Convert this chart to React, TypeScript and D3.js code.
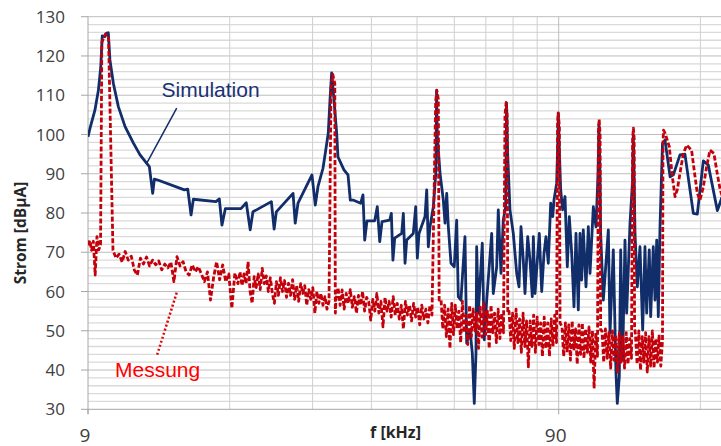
import React, { useEffect, useRef } from "react";
import * as d3 from "d3";

const W = 721;
const H = 446;

// axis ticks / grid
const yTicks = [30, 40, 50, 60, 70, 80, 90, 100, 110, 120, 130];
const yMinor = d3.range(30, 131, 2);
const xTickLabels = [9, 90];
const xGrid = [18, 27, 36, 45, 54, 63, 72, 81, 90, 180, 270];

// Simulation [kHz, dBµA]
const simulation: [number, number][] = [
  [9.0, 99.4], [9.09, 101.6], [9.31, 106.2], [9.47, 111.3], [9.58, 117.3], [9.65, 125.1],
  [9.78, 124.9], [9.86, 125.8], [9.94, 125.9], [10.02, 119], [10.19, 113], [10.44, 107.1],
  [10.79, 102], [11.24, 97.8], [11.61, 94.8], [12.02, 92.5], [12.15, 91.8], [12.35, 85.0],
  [12.45, 88.6], [12.66, 88.4], [14.42, 85.9], [14.66, 86.1], [14.9, 79.5], [15.07, 83.5],
  [16.83, 82.9], [17.11, 83.6], [17.33, 76.9], [17.62, 81.1], [19.02, 81.1], [19.52, 82.6],
  [19.9, 75.7], [20.17, 80.3], [22.07, 82.9], [22.37, 75.9], [22.61, 80.3], [24.54, 85.0],
  [24.8, 77.4], [25.14, 82.5], [26.92, 89.7], [27.36, 82.0], [27.72, 86.7], [28.41, 91.4],
  [28.73, 95.2], [29.15, 100.3], [29.4, 108.8], [29.64, 115.7], [29.98, 108.8], [30.38, 100.3],
  [30.57, 94.3], [31.48, 91], [32.11, 89.7], [32.47, 83.3], [32.9, 83.3], [34.17, 82.5],
  [34.55, 84.6], [34.84, 73.1], [35.23, 78.0], [36.59, 78.0], [37.05, 81.6], [37.5, 72.7],
  [37.92, 77.8], [39.38, 78.2], [39.69, 79.9], [40.0, 68.0], [40.35, 73.6], [41.76, 74.8],
  [42.09, 79.9], [42.44, 67.2], [42.79, 73.1], [44.19, 74.8], [44.72, 81.6], [45.07, 68.5],
  [45.44, 74.8], [46.8, 79.1], [47.19, 85.9], [47.56, 71.4], [47.96, 76.5], [48.74, 81.6],
  [49.33, 90.1], [49.45, 100], [49.53, 111.3], [49.68, 100], [50.37, 90.1], [51.18, 83.3],
  [51.61, 77.4], [52.04, 85.0], [52.45, 76.5], [53.14, 67.2], [54.0, 66.3], [54.64, 78.2],
  [55.07, 58.7], [55.79, 57.8], [56.9, 74.0], [57.38, 46.8], [58.32, 50.2], [58.98, 44.3],
  [59.55, 31.5], [60.05, 44.3], [60.25, 71.4], [60.73, 54.5], [61.93, 72.3], [62.53, 47.7],
  [63.28, 57.8], [64.85, 74.8], [65.35, 59.5], [66.45, 66.3], [66.97, 80.8], [67.86, 64.6],
  [68.63, 78.2], [69.44, 81.6], [69.72, 108], [70.12, 95], [70.91, 80.8], [72.07, 74.8],
  [73.29, 64.6], [74.12, 61.2], [74.84, 76.5], [75.69, 68.0], [76.32, 59.5], [77.34, 74.0],
  [78.21, 68.0], [79.09, 58.7], [79.5, 74.0], [80.16, 59.5], [81.07, 68], [81.85, 74.8],
  [82.82, 60], [83.76, 69.7], [84.57, 74.0], [85.53, 67.2], [86.54, 82.5], [87.41, 79.1],
  [87.95, 83.3], [89.11, 87.6], [89.69, 100], [89.8, 105.4], [90.35, 95], [90.88, 85.9],
  [91.76, 80.8], [92.82, 84.2], [93.87, 66.3], [94.79, 79.1], [95.91, 69.7], [96.99, 56.1],
  [97.94, 74.8], [99.05, 55.3], [99.88, 74.8], [100.71, 62.9], [101.5, 75.7], [102.86, 61.2],
  [104.03, 76.5], [104.9, 64.6], [106.61, 81.6], [108.02, 76.5], [109.09, 90], [109.6, 102.6],
  [110.15, 90], [110.5, 74.8], [111.96, 57.8], [114.73, 75.7], [115.68, 49.4], [117.56, 70.6],
  [119.11, 39.2], [119.88, 31.5], [121.05, 38.3], [121.89, 70.6], [123.07, 42.6], [124.47, 73.1],
  [125.5, 54.5], [127.57, 77.4], [129.14, 88], [129.65, 99.9], [130.21, 88], [130.72, 74.8],
  [132.2, 61.2], [133.95, 71.4], [135.72, 50.2], [137.26, 71.4], [138.4, 54.5], [140.17, 70.6],
  [141.14, 53.6], [142.94, 71.4], [144.16, 57.8], [145.37, 73.1], [146.51, 53.6], [147.73, 76.5],
  [149.54, 97.7], [151.37, 98.6], [155.2, 89.2], [157.7, 89.7], [162.9, 94.8], [166.9, 95.0],
  [173.9, 79.9], [177.3, 79.7], [182.6, 93.3], [187.1, 92.2], [195.6, 80.6], [200, 84],
];

// Messung: noise stretches between the harmonics (from/to in kHz, values in dBµA)
const measNoise = [
  { from: 9.0, to: 9.57, db: [71.8, 73.0, 70.5, 72.8, 64.2, 74.0, 70.6, 72.0] },
  {
    from: 10.17, to: 18.74,
    db: [
      70.5, 68.5, 69.5, 67.5, 70.2, 68.0, 69.0, 65.5, 64.2, 68.5, 67.0, 68.8, 66.5, 68.0, 66.8,
      67.8, 65.5, 67.0, 66.0, 67.5, 62.5, 68.9, 66.5, 67.6, 65.0, 64.2, 66.8, 65.0, 66.3, 64.5,
      62.5, 65.0, 57.8, 63.5, 67.6, 63.0, 66.8, 62.5, 64.5, 55.7, 64.7, 62.0,
    ],
  },
  {
    from: 18.93, to: 29.26,
    db: [
      65.0, 61.5, 64.5, 62.0, 67.6, 60.0, 57.0, 63.8, 61.0, 64.5, 60.5, 65.9, 62.0, 64.0, 60.0,
      63.5, 59.5, 57.0, 62.5, 59.0, 63.5, 60.0, 62.8, 58.5, 62.1, 59.0, 63.0, 58.0, 61.5, 57.5,
      62.0, 59.5, 61.5, 56.5, 60.5, 58.0, 61.0, 54.5, 60.0, 57.0, 59.5, 56.5, 58.7, 55.5, 57.5,
    ],
  },
  {
    from: 30.28, to: 48.42,
    db: [
      58.0, 61.0, 56.5, 60.4, 55.5, 59.5, 57.0, 60.5, 56.0, 58.7, 54.5, 59.0, 56.5, 60.0, 55.0,
      58.5, 57.5, 52.7, 58.0, 55.0, 59.5, 54.5, 57.5, 51.0, 58.5, 55.0, 57.5, 53.5, 58.7, 54.0,
      57.0, 53.0, 56.5, 50.5, 57.5, 54.0, 56.5, 52.5, 57.0, 53.5, 56.0, 51.5, 56.5, 53.0, 55.5,
      52.0, 56.5, 54.0,
    ],
  },
  {
    from: 50.61, to: 68.7,
    db: [
      58.0, 50.5, 56.5, 48.5, 55.5, 45.5, 57.0, 49.0, 56.5, 50.5, 55.0, 47.0, 57.5, 49.5, 54.0,
      46.5, 56.5, 48.5, 55.5, 50.0, 54.5, 45.5, 56.0, 48.4, 57.0, 49.0, 55.0, 45.5, 56.5, 49.5,
      54.5, 47.0, 55.5, 48.0, 54.5, 49.5,
    ],
  },
  {
    from: 70.58, to: 89.04,
    db: [
      55.0, 47.5, 54.5, 45.5, 55.5, 47.0, 53.0, 44.5, 54.5, 46.0, 52.5, 40.8, 52.5, 46.0, 54.0,
      44.5, 53.5, 46.5, 52.0, 43.5, 53.5, 45.5, 52.0, 43.5, 53.0, 46.0, 54.0, 47.0,
    ],
  },
  {
    from: 91.47, to: 108.8,
    db: [
      51.0, 43.5, 52.0, 44.5, 51.5, 42.5, 52.5, 45.0, 50.5, 41.5, 51.5, 44.0, 52.0, 43.0, 50.5,
      44.5, 51.0, 42.0, 50.0, 35.3, 49.5, 43.5,
    ],
  },
  {
    from: 111.22, to: 128.48,
    db: [50.0, 42.0, 50.5, 43.0, 49.5, 40.5, 50.0, 42.5, 49.0, 39.5, 49.5, 42.0, 48.5, 40.5, 49.5, 41.5, 48.0, 43.0],
  },
  {
    from: 131.01, to: 149.54,
    db: [49.0, 41.5, 50.0, 40.0, 48.5, 42.0, 49.5, 39.5, 48.5, 41.0, 50.0, 40.5, 48.0, 42.0, 49.0, 41.0, 47.5],
  },
];

// Messung: harmonic lines and the tail above 150 kHz
const measPeaks: [number, number][] = [
  [9.63, 123.5], [9.8, 125.6], [9.95, 125.0],
  [29.55, 112.0], [29.8, 115.3], [30.1, 113.0], [30.18, 54.5],
  [49.3, 108.5], [49.6, 111.2], [49.95, 109], [50.15, 57.8],
  [69.2, 105], [69.6, 108.2], [69.95, 105], [70.15, 54.5],
  [89.5, 103], [89.8, 105.5], [90.3, 102], [90.6, 52],
  [109.3, 101], [109.7, 103.9], [110.2, 100], [110.5, 50.2],
  [129.2, 99], [129.7, 101.6], [130.2, 99], [130.45, 51],
  [149.9, 98], [150.3, 101.1], [151.5, 100.3], [154.6, 96.9], [157, 89], [159.0, 84.2],
  [160.8, 86], [162.9, 90.1], [165.5, 95], [168.3, 97.3], [172.4, 96.0], [175, 90],
  [177.3, 85.0], [179.6, 83.3], [182.5, 86.5], [185.6, 91.8], [188.6, 96.0], [192.3, 95.2],
  [195.5, 90], [198.3, 85.9], [202, 83],
];

export default function App() {
  const svgRef = useRef<SVGSVGElement>(null);

  useEffect(() => {
    const svg = d3.select(svgRef.current);
    svg.selectAll("*").remove();

    const x = d3.scaleLog().domain([9, 90]).range([88, 558.7]);
    const y = d3.scaleLinear().domain([30, 130]).range([409.3, 16.7]);
    const left = 88, right = W, top = y(130), bottom = y(30);

    // build measurement series
    const meas: [number, number][] = [...measPeaks];
    measNoise.forEach((s) => {
      const n = s.db.length;
      s.db.forEach((v, i) => {
        const f = s.from * Math.pow(s.to / s.from, n > 1 ? i / (n - 1) : 0);
        meas.push([f, v]);
      });
    });
    meas.sort((a, b) => a[0] - b[0]);

    svg.append("defs").append("clipPath").attr("id", "plot")
      .append("rect").attr("x", left).attr("y", top - 6).attr("width", right - left).attr("height", bottom - top + 8);

    // grid
    const g = svg.append("g");
    g.selectAll("line.hmin").data(yMinor.filter((v) => v % 10 !== 0)).join("line")
      .attr("x1", left).attr("x2", right).attr("y1", (d) => y(d)).attr("y2", (d) => y(d))
      .attr("stroke", "#dadada").attr("stroke-width", 1.3);
    g.selectAll("line.hmaj").data(yTicks.slice(1)).join("line")
      .attr("x1", left).attr("x2", right).attr("y1", (d) => y(d)).attr("y2", (d) => y(d))
      .attr("stroke", "#bdbdbd").attr("stroke-width", 1);
    g.selectAll("line.v").data(xGrid.filter((d) => x(d) < W)).join("line")
      .attr("x1", (d) => x(d)).attr("x2", (d) => x(d)).attr("y1", top).attr("y2", bottom)
      .attr("stroke", (d) => (d === 90 ? "#bdbdbd" : "#d0d0d0")).attr("stroke-width", 1);

    // axes
    g.append("line").attr("x1", left).attr("x2", left).attr("y1", top).attr("y2", bottom + 5)
      .attr("stroke", "#a6a6a6");
    g.append("line").attr("x1", left).attr("x2", right).attr("y1", bottom).attr("y2", bottom)
      .attr("stroke", "#a6a6a6");
    g.selectAll("line.yt").data(yTicks).join("line")
      .attr("x1", left - 7).attr("x2", left).attr("y1", (d) => y(d)).attr("y2", (d) => y(d))
      .attr("stroke", "#a6a6a6");
    g.selectAll("line.xt").data(xTickLabels).join("line")
      .attr("x1", (d) => x(d)).attr("x2", (d) => x(d)).attr("y1", bottom).attr("y2", bottom + 5)
      .attr("stroke", "#a6a6a6");

    g.selectAll("text.yl").data(yTicks).join("text")
      .attr("x", 65).attr("y", (d) => y(d)).attr("dy", "0.36em").attr("text-anchor", "end")
      .attr("fill", "#404040").style("font-family", "'Open Sans', sans-serif").style("font-size", "17px")
      .text((d) => d);
    g.selectAll("text.xl").data(xTickLabels).join("text")
      .attr("x", (d) => x(d) - 3).attr("y", 441.5).attr("text-anchor", "middle")
      .attr("fill", "#404040").style("font-family", "'Open Sans', sans-serif").style("font-size", "19px")
      .text((d) => d);

    g.append("text").attr("transform", `translate(26,233) rotate(-90)`).attr("text-anchor", "middle")
      .attr("fill", "#262626").style("font-family", "'Open Sans', sans-serif").style("font-size", "15.5px")
      .style("font-weight", 700).text("Strom [dBµA]");
    g.append("text").attr("x", 395.5).attr("y", 437.5).attr("text-anchor", "middle")
      .attr("fill", "#262626").style("font-family", "'Open Sans', sans-serif").style("font-size", "16px")
      .style("font-weight", 700).text("f [kHz]");

    // series
    const line = d3.line<[number, number]>().x((d) => x(d[0])).y((d) => y(d[1]));
    const plot = svg.append("g").attr("clip-path", "url(#plot)");
    plot.append("path").datum(simulation).attr("d", line).attr("fill", "none")
      .attr("stroke", "#112d6a").attr("stroke-width", 2.8).attr("stroke-linejoin", "round");
    plot.append("path").datum(meas).attr("d", line).attr("fill", "none")
      .attr("stroke", "#c4000a").attr("stroke-width", 2.8).attr("stroke-dasharray", "5,2.2")
      .attr("stroke-linejoin", "round");

    // annotations
    svg.append("line").attr("x1", x(13.89)).attr("y1", y(106.7)).attr("x2", x(12.0)).attr("y2", y(92.7))
      .attr("stroke", "#112d6a").attr("stroke-width", 1.5);
    svg.append("text").attr("x", x(12.9)).attr("y", y(109.6)).attr("fill", "#1a3275")
      .style("font-family", "'Liberation Sans', Arial, sans-serif").style("font-size", "21px")
      .text("Simulation");
    svg.append("line").attr("x1", x(13.89)).attr("y1", y(59.7)).attr("x2", x(12.6)).attr("y2", y(43.6))
      .attr("stroke", "#e00000").attr("stroke-width", 2.5).attr("stroke-dasharray", "2,2.2");
    svg.append("text").attr("x", x(10.27)).attr("y", y(38.3)).attr("fill", "#ff0000")
      .style("font-family", "'Liberation Sans', Arial, sans-serif").style("font-size", "21px")
      .text("Messung");
  }, []);

  return (
    <svg
      ref={svgRef}
      width={W}
      height={H}
      style={{ position: "absolute", left: 0, top: 0, background: "#fff" }}
    ></svg>
  );
}
